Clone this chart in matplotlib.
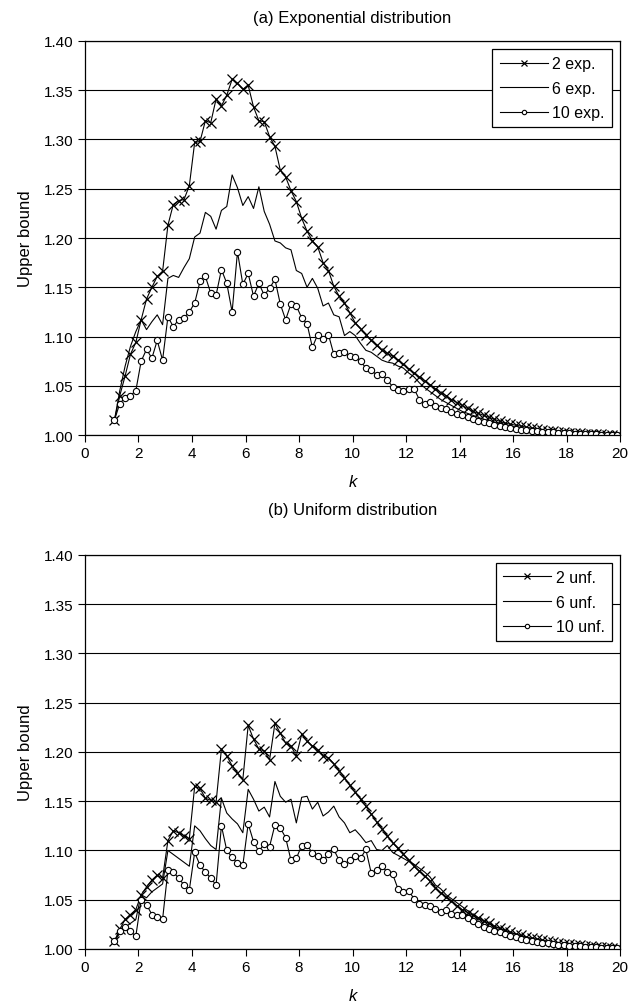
import matplotlib
matplotlib.use("Agg")
import matplotlib.pyplot as plt

plt.rcParams['font.family'] = ['Liberation Sans', 'DejaVu Sans']

# ---------- data ----------
k_values = [
    1.1, 1.3, 1.5, 1.7, 1.9, 2.1, 2.3, 2.5, 2.7, 2.9,
    3.1, 3.3, 3.5, 3.7, 3.9, 4.1, 4.3, 4.5, 4.7, 4.9,
    5.1, 5.3, 5.5, 5.7, 5.9, 6.1, 6.3, 6.5, 6.7, 6.9,
    7.1, 7.3, 7.5, 7.7, 7.9, 8.1, 8.3, 8.5, 8.7, 8.9,
    9.1, 9.3, 9.5, 9.7, 9.9, 10.1, 10.3, 10.5, 10.7, 10.9,
    11.1, 11.3, 11.5, 11.7, 11.9, 12.1, 12.3, 12.5, 12.7, 12.9,
    13.1, 13.3, 13.5, 13.7, 13.9, 14.1, 14.3, 14.5, 14.7, 14.9,
    15.1, 15.3, 15.5, 15.7, 15.9, 16.1, 16.3, 16.5, 16.7, 16.9,
    17.1, 17.3, 17.5, 17.7, 17.9, 18.1, 18.3, 18.5, 18.7, 18.9,
    19.1, 19.3, 19.5, 19.7, 19.9,
]

exp_2 = [
    1.015, 1.040, 1.060, 1.082, 1.094, 1.117, 1.138, 1.150, 1.161, 1.166,
    1.213, 1.234, 1.238, 1.239, 1.253, 1.297, 1.298, 1.319, 1.317, 1.341,
    1.334, 1.345, 1.361, 1.357, 1.351, 1.355, 1.333, 1.319, 1.318, 1.303,
    1.293, 1.269, 1.262, 1.248, 1.237, 1.220, 1.207, 1.197, 1.191, 1.175,
    1.167, 1.151, 1.141, 1.134, 1.124, 1.114, 1.108, 1.102, 1.096, 1.091,
    1.086, 1.083, 1.080, 1.076, 1.072, 1.067, 1.063, 1.059, 1.055, 1.051,
    1.047, 1.043, 1.040, 1.036, 1.033, 1.030, 1.027, 1.024, 1.022, 1.020,
    1.018, 1.016, 1.014, 1.012, 1.011, 1.010, 1.009, 1.008, 1.007, 1.006,
    1.005, 1.004, 1.004, 1.003, 1.003, 1.002, 1.002, 1.002, 1.001, 1.001,
    1.001, 1.001, 1.000, 1.000, 1.000,
]
exp_6 = [
    1.015, 1.045, 1.070, 1.090, 1.105, 1.117, 1.107, 1.115, 1.122, 1.112,
    1.159, 1.162, 1.160, 1.170, 1.179, 1.201, 1.205, 1.226, 1.222, 1.209,
    1.228, 1.232, 1.264, 1.251, 1.233, 1.242, 1.230, 1.252, 1.227, 1.214,
    1.197, 1.195, 1.190, 1.188, 1.167, 1.164, 1.150, 1.159, 1.149, 1.131,
    1.134, 1.122, 1.120, 1.101, 1.105, 1.101, 1.093, 1.086, 1.084, 1.080,
    1.076, 1.074, 1.073, 1.070, 1.068, 1.063, 1.059, 1.053, 1.048, 1.044,
    1.040, 1.036, 1.033, 1.030, 1.027, 1.024, 1.022, 1.020, 1.018, 1.016,
    1.014, 1.013, 1.012, 1.010, 1.009, 1.008, 1.007, 1.006, 1.006, 1.005,
    1.004, 1.004, 1.003, 1.003, 1.002, 1.002, 1.002, 1.001, 1.001, 1.001,
    1.001, 1.000, 1.000, 1.000, 1.000,
]
exp_10 = [
    1.015, 1.032, 1.038, 1.040, 1.045, 1.075, 1.087, 1.078, 1.096, 1.076,
    1.120, 1.110, 1.117, 1.119, 1.125, 1.134, 1.156, 1.161, 1.144, 1.142,
    1.168, 1.154, 1.125, 1.186, 1.153, 1.164, 1.141, 1.154, 1.142, 1.149,
    1.158, 1.133, 1.117, 1.133, 1.131, 1.119, 1.113, 1.089, 1.102, 1.097,
    1.102, 1.082, 1.083, 1.084, 1.080, 1.079, 1.075, 1.068, 1.066, 1.061,
    1.062, 1.056, 1.049, 1.046, 1.045, 1.047, 1.047, 1.036, 1.031, 1.034,
    1.029, 1.027, 1.026, 1.023, 1.021, 1.020, 1.018, 1.016, 1.014, 1.013,
    1.012, 1.010, 1.009, 1.008, 1.007, 1.006, 1.005, 1.005, 1.004, 1.004,
    1.003, 1.003, 1.003, 1.002, 1.002, 1.002, 1.001, 1.001, 1.001, 1.001,
    1.001, 1.000, 1.000, 1.000, 1.000,
]

unf_2 = [
    1.008, 1.020, 1.030, 1.035, 1.040, 1.055, 1.063, 1.070, 1.075, 1.072,
    1.110, 1.120, 1.118, 1.115, 1.112, 1.165, 1.163, 1.153, 1.151, 1.149,
    1.203, 1.196, 1.186, 1.179, 1.172, 1.227, 1.213, 1.203, 1.201, 1.192,
    1.229, 1.219, 1.209, 1.206, 1.196, 1.218, 1.211, 1.206, 1.202, 1.196,
    1.194, 1.188, 1.181, 1.174, 1.166, 1.159, 1.152, 1.145, 1.137, 1.129,
    1.122, 1.115, 1.108, 1.102, 1.096, 1.090, 1.084, 1.079, 1.074, 1.069,
    1.062, 1.057, 1.053, 1.049, 1.044, 1.040, 1.037, 1.034, 1.031, 1.028,
    1.026, 1.023, 1.021, 1.019, 1.017, 1.015, 1.014, 1.012, 1.011, 1.010,
    1.009, 1.008, 1.007, 1.006, 1.005, 1.005, 1.004, 1.004, 1.003, 1.003,
    1.002, 1.002, 1.002, 1.001, 1.001,
]
unf_6 = [
    1.008, 1.016, 1.022, 1.026, 1.030, 1.055, 1.052, 1.058, 1.062, 1.066,
    1.100, 1.096, 1.092, 1.088, 1.084, 1.125, 1.120, 1.112, 1.105, 1.101,
    1.153, 1.138, 1.132, 1.127, 1.118, 1.162, 1.152, 1.140, 1.144, 1.134,
    1.170, 1.155, 1.149, 1.152, 1.128, 1.154, 1.155, 1.142, 1.149, 1.135,
    1.139, 1.145, 1.134, 1.128, 1.118, 1.121, 1.115, 1.108, 1.110, 1.101,
    1.100, 1.105, 1.098, 1.095, 1.092, 1.089, 1.086, 1.082, 1.078, 1.073,
    1.065, 1.061, 1.055, 1.051, 1.047, 1.043, 1.039, 1.035, 1.032, 1.029,
    1.026, 1.023, 1.021, 1.019, 1.017, 1.015, 1.013, 1.012, 1.010, 1.009,
    1.008, 1.007, 1.006, 1.006, 1.005, 1.004, 1.004, 1.003, 1.003, 1.002,
    1.002, 1.002, 1.001, 1.001, 1.001,
]
unf_10 = [
    1.008, 1.018, 1.022, 1.018, 1.013, 1.050, 1.045, 1.035, 1.032, 1.030,
    1.080, 1.078, 1.072, 1.065, 1.060, 1.098, 1.085, 1.078, 1.072, 1.065,
    1.125, 1.100, 1.093, 1.087, 1.085, 1.127, 1.109, 1.099, 1.107, 1.104,
    1.126, 1.123, 1.113, 1.090, 1.092, 1.105, 1.106, 1.097, 1.094, 1.090,
    1.096, 1.101, 1.090, 1.086, 1.090, 1.094, 1.092, 1.101, 1.077, 1.080,
    1.084, 1.078, 1.076, 1.061, 1.058, 1.059, 1.051, 1.046, 1.045, 1.044,
    1.041, 1.038, 1.040, 1.036, 1.034, 1.035, 1.031, 1.028, 1.025, 1.022,
    1.020, 1.018, 1.017, 1.015, 1.013, 1.012, 1.010, 1.009, 1.008, 1.007,
    1.006, 1.006, 1.005, 1.004, 1.004, 1.003, 1.003, 1.003, 1.002, 1.002,
    1.002, 1.001, 1.001, 1.001, 1.001,
]

y_ticks = [1.00, 1.05, 1.10, 1.15, 1.20, 1.25, 1.30, 1.35, 1.40]
x_ticks = [0, 2, 4, 6, 8, 10, 12, 14, 16, 18, 20]


def draw_panel(ax, s2, s6, s10, suffix):
    ax.plot(k_values, s2, color='black', linewidth=0.8, marker='x',
            markersize=7, markeredgewidth=0.9, label="2 " + suffix)
    ax.plot(k_values, s6, color='black', linewidth=0.8, label="6 " + suffix)
    ax.plot(k_values, s10, color='black', linewidth=0.8, marker='o',
            markersize=4.5, markeredgewidth=0.8, markerfacecolor='white',
            label="10 " + suffix)

    ax.set_xlim(0, 20)
    ax.set_ylim(1.00, 1.40)
    ax.set_xticks(x_ticks)
    ax.set_yticks(y_ticks)
    ax.set_yticklabels(["%.2f" % v for v in y_ticks])
    ax.yaxis.grid(True, color='black', linewidth=0.8)
    ax.tick_params(direction='out', length=5, width=0.8, labelsize=11, pad=3)
    for sp in ax.spines.values():
        sp.set_linewidth(0.9)

    ax.set_xlabel("k", fontsize=12, style='italic', labelpad=10)
    ax.set_ylabel("Upper bound", fontsize=12, labelpad=8)

    leg = ax.legend(loc='upper right', fancybox=False, framealpha=1,
                    edgecolor='black', fontsize=11.5, handlelength=3.0,
                    labelspacing=0.6, borderpad=0.45, handletextpad=0.3,
                    numpoints=1, markerscale=0.7, borderaxespad=0.5)
    leg.get_frame().set_linewidth(0.9)


fig = plt.figure(figsize=(6.31, 10.04), dpi=100)

ax_top = fig.add_axes([0.1347, 0.5657, 0.8479, 0.3925])
draw_panel(ax_top, exp_2, exp_6, exp_10, "exp.")

ax_bot = fig.add_axes([0.1347, 0.0538, 0.8479, 0.3925])
draw_panel(ax_bot, unf_2, unf_6, unf_10, "unf.")

fig.text(0.5586, 1 - 18 / 1004, "(a) Exponential distribution",
         ha='center', va='center', fontsize=12)
fig.text(0.5586, 1 - 510 / 1004, "(b) Uniform distribution",
         ha='center', va='center', fontsize=12)

fig.savefig("out.png", dpi=100)
